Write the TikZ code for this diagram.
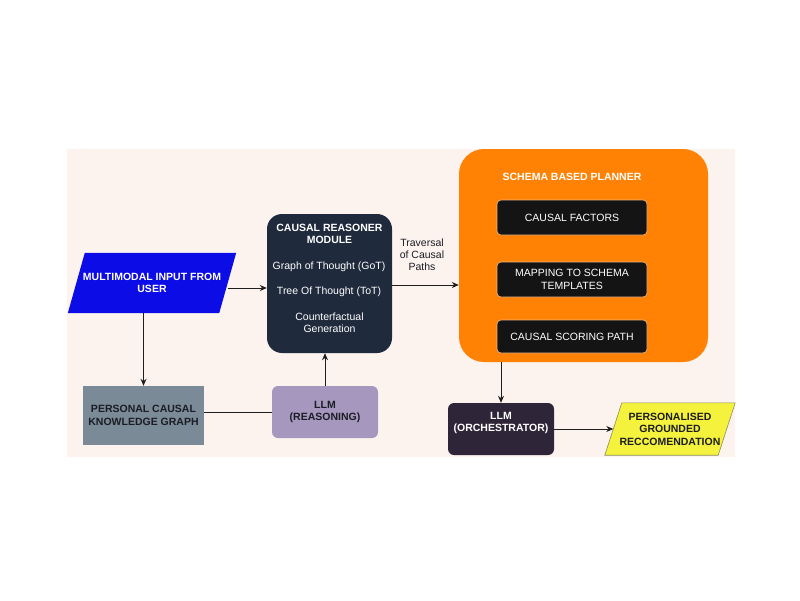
\documentclass[tikz,border=0pt]{standalone}
\usepackage{fontspec}
\setmainfont{Liberation Sans}
\usetikzlibrary{arrows.meta,backgrounds,calc}
\definecolor{bgpink}{HTML}{FCF3EF}
\definecolor{inblue}{HTML}{0C0CE6}
\definecolor{reasonerc}{HTML}{1F2A3C}
\definecolor{orangec}{HTML}{FF8204}
\definecolor{innerc}{HTML}{141414}
\definecolor{innerb}{HTML}{F3B784}
\definecolor{slatec}{HTML}{7A8A97}
\definecolor{lavc}{HTML}{A597BD}
\definecolor{orchc}{HTML}{2F2538}
\definecolor{yellowc}{HTML}{F4F23C}
\definecolor{yellowb}{HTML}{8C8C5A}
\definecolor{darktext}{HTML}{1C1C24}
\definecolor{linec}{HTML}{1E1E1E}
\begin{document}
\begin{tikzpicture}[x=1pt,y=-1pt,
  every node/.style={font=\fontsize{10.5}{12.5}\selectfont, inner sep=0pt, align=center},
  conn/.style={draw=linec, line width=0.9pt},
  arr/.style={conn, -{Stealth[length=7pt,width=6pt]}},
  bfw/.style={font=\fontsize{10.5}{12.5}\selectfont\bfseries},
  innerbox/.style={fill=innerc, draw=innerb, line width=0.6pt, rounded corners=4pt,
    minimum width=150pt, text=white},
  llmbox/.style={rounded corners=6pt, minimum width=106pt, minimum height=52pt}
]
\useasboundingbox (0,0) rectangle (800,600);

% main boxes
\node[fill=reasonerc, rounded corners=15pt, minimum width=125pt, minimum height=139pt] (reasoner) at (329.5,283.5) {};
\node[text=white, bfw] (rtitle) at (329.5,234) {CAUSAL REASONER\\MODULE};
\node[text=white] (got) at (329,267) {Graph of Thought (GoT)};
\node[text=white] (tot) at (329,292) {Tree Of Thought (ToT)};
\node[text=white] (cfg) at (329.5,322.5) {Counterfactual\\Generation};

\node[fill=orangec, rounded corners=25pt, minimum width=249pt, minimum height=213pt] (planner) at (583.5,255.5) {};
\node[text=white, bfw] (ptitle) at (572,177) {SCHEMA BASED PLANNER};
\node[innerbox, minimum height=35pt] (factors) at (572,217.5) {CAUSAL FACTORS};
\node[innerbox, minimum height=35pt] (mapping) at (572,279.5) {MAPPING TO SCHEMA\\TEMPLATES};
\node[innerbox, minimum height=33pt] (scoring) at (572,336.5) {CAUSAL SCORING PATH};

\node[fill=slatec, minimum width=121pt, minimum height=59pt, text=darktext, bfw] (pckg) at (143.5,415.5) {PERSONAL CAUSAL\\KNOWLEDGE GRAPH};
\node[llmbox, fill=lavc, text=darktext, bfw] (llmr) at (325,412) {LLM\\(REASONING)};
\node[llmbox, fill=orchc] (orch) at (501,429) {};
\node[text=white, bfw] (orchtext) at (501,423) {LLM\\(ORCHESTRATOR)};

\node[minimum width=151pt, minimum height=60pt, text=white, bfw] (input) at (152,283) {MULTIMODAL INPUT FROM\\USER};
\node[minimum width=113pt, minimum height=52pt, text=darktext, bfw] (output) at (670,429) {PERSONALISED\\GROUNDED\\RECCOMENDATION};

\node[text=darktext, font=\fontsize{10.5}{12}\selectfont] (trav) at (422,255) {Traversal\\of Causal\\Paths};

\begin{pgfonlayer}{background}
  \fill[bgpink] (67,149) rectangle (735,457);
  \fill[inblue] ([xshift=8.5pt]input.north west) -- ([xshift=8.5pt]input.north east)
    -- ([xshift=-8.5pt]input.south east) -- ([xshift=-8.5pt]input.south west) -- cycle;
  \filldraw[fill=yellowc, draw=yellowb, line width=0.6pt]
    ([xshift=8.5pt]output.north west) -- ([xshift=8.5pt]output.north east)
    -- ([xshift=-8.5pt]output.south east) -- ([xshift=-8.5pt]output.south west) -- cycle;
\end{pgfonlayer}

% connectors
\coordinate (inout) at ([yshift=-5pt]input.east);
\coordinate (reout) at ([yshift=-1.5pt]reasoner.east);
\draw[arr] (inout) -- (inout -| reasoner.west);
\draw[arr] (reout) -- (reout -| planner.west);
\draw[arr] (input.south -| pckg.north) -- (pckg.north);
\draw[conn] (llmr.west) -- (llmr.west -| pckg.east);
\draw[arr] (llmr.north) -- (llmr.north |- reasoner.south);
\draw[arr] (planner.south -| orch.north) -- (orch.north);
\draw[arr] (orch.east) -- (orch.east -| output.west);
\end{tikzpicture}
\end{document}
